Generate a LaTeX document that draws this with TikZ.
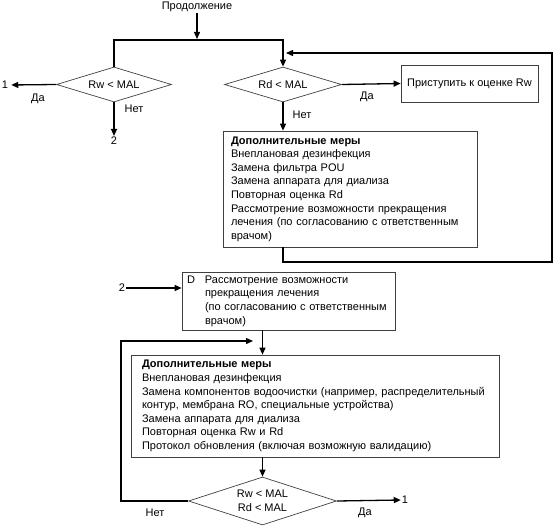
\documentclass[tikz,border=0pt]{standalone}
\usepackage{fontspec}
\setmainfont{Liberation Sans}
\usetikzlibrary{shapes.geometric,arrows.meta}
\begin{document}
\begin{tikzpicture}[x=1pt,y=-1pt,
  every node/.style={font=\fontsize{11}{13.6}\selectfont, inner sep=1pt},
  conn/.style={line width=1.3pt, -{Triangle[length=7pt,width=6pt]}},
  dia/.style={draw=black!75, line width=0.7pt, diamond, aspect=3.3, inner sep=0pt},
  boxx/.style={draw=black!75, line width=0.7pt, rectangle, align=left, inner ysep=0pt}
]
\useasboundingbox (0,0) rectangle (557,527);

% nodes
\node (prod) at (197,7) {Продолжение};
\node[dia, minimum width=115pt, minimum height=35pt] (rw) at (114,84.5) {Rw < MAL};
\node[dia, minimum width=117pt, minimum height=35pt] (rd) at (283,84.5) {Rd < MAL};
\node (one1) at (5,85) {1};
\node (two1) at (114,141) {2};
\node (da1) at (38,99) {Да};
\node (net1) at (134,109) {Нет};
\node (da2) at (367,97) {Да};
\node (net2) at (302,115) {Нет};
\node[boxx, minimum width=137pt, minimum height=37pt, inner xsep=4pt] (go) at (469.5,83.5) {Приступить к оценке Rw};

\node[boxx, minimum width=254pt, minimum height=116pt, text width=238pt, inner xsep=8pt] (m1) at (350,189) {%
\textbf{Дополнительные меры}\\
Внеплановая дезинфекция\\
Замена фильтра POU\\
Замена аппарата для диализа\\
Повторная оценка Rd\\
Рассмотрение возможности прекращения\\
лечения (по согласованию с ответственным\\
врачом)};

\node (two2) at (122,288) {2};
\node[boxx, minimum width=213pt, minimum height=58pt, text width=203pt, inner xsep=5pt] (dd) at (288.5,301) {%
\begin{tabular}{@{}p{18pt}@{}l@{}}
D & Рассмотрение возможности\\
  & прекращения лечения\\
  & (по согласованию с ответственным\\
  & врачом)
\end{tabular}};

\node[boxx, minimum width=368pt, minimum height=102pt, text width=346pt, inner xsep=11pt] (m2) at (315,406) {%
\textbf{Дополнительные меры}\\
Внеплановая дезинфекция\\
\mbox{Замена компонентов водоочистки (например, распределительный}\\
контур, мембрана RO, специальные устройства)\\
Замена аппарата для диализа\\
Повторная оценка Rw и Rd\\
Протокол обновления (включая возможную валидацию)};

\node[dia, aspect=3.1, minimum width=148pt, minimum height=48pt, align=center] (d3) at (262.5,501) {Rw < MAL\\Rd < MAL};
\node (one2) at (405,500) {1};
\node (da3) at (365,513) {Да};
\node (net3) at (155,513) {Нет};

% coordinates
\coordinate (top) at (197,40);
\coordinate (lb) at (283,262);
\coordinate (rt) at (552,53);
\coordinate (lp) at (121,341);
\coordinate (fb) at (253,341);

% connectors
\draw[conn, shorten >=1pt] (prod.south) -- (top);
\draw[conn] (rw.north) |- (top) -| (rd.north);
\draw[conn, shorten >=2pt] (rw.west) -- (one1.east);
\draw[conn] (rw.south) -- (two1.north);
\draw[conn] (rd.east) -- (go.west);
\draw[conn] (rd.south) -- (rd.south |- m1.north);
\draw[conn, shorten >=3pt] (rd.south |- m1.south) -- (lb) -| (rt) -- (rt -| rd.north);
\draw[conn] (two2.east) -- (dd.west |- two2);
\draw[conn] (d3.north |- dd.south) -- (d3.north |- m2.north);
\draw[conn] (d3.north |- m2.south) -- (d3.north);
\draw[conn] (d3.east) -- (one2.west);
\draw[conn] (d3.west) -| (lp) -- (fb);
\end{tikzpicture}
\end{document}
